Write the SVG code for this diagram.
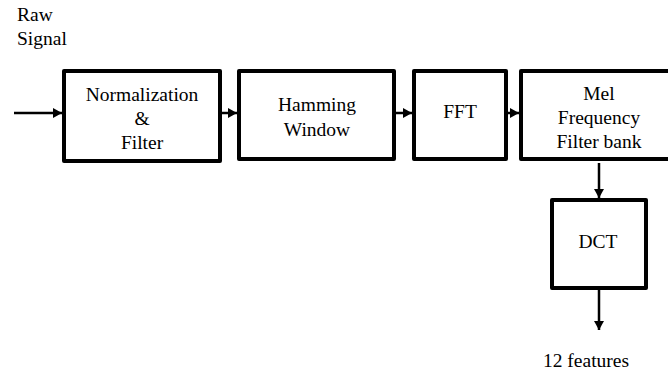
<svg xmlns="http://www.w3.org/2000/svg" width="668" height="374" viewBox="0 0 668 374">
<style>
.box{fill:#fff;stroke:#000;stroke-width:4;stroke-linejoin:round}
.c{stroke:#000;stroke-width:2.5;fill:none;marker-end:url(#ah)}
</style>
<defs>
<marker id="ah" markerUnits="userSpaceOnUse" markerWidth="10" markerHeight="10" refX="9" refY="5" orient="auto">
<path d="M0,0 L9,5 L0,10 Z" fill="#000"/>
</marker>
</defs>
<rect width="668" height="374" fill="#fff"/>
<g font-family="Liberation Serif, DejaVu Serif, serif" font-size="19.5" fill="#000">
<g id="raw-signal">
<text x="17" y="21">Raw</text>
<text x="17" y="45">Signal</text>
</g>
</g>
<g id="connectors">
<line class="c" x1="14" y1="113" x2="62" y2="113"/>
<line class="c" x1="222" y1="113" x2="237" y2="113"/>
<line class="c" x1="396" y1="113" x2="412" y2="113"/>
<line class="c" x1="508" y1="113" x2="519" y2="113"/>
<line class="c" x1="599" y1="163" x2="599" y2="198"/>
<line class="c" x1="599" y1="290" x2="599" y2="330"/>
</g>
<g font-family="Liberation Serif, DejaVu Serif, serif" font-size="19.5" fill="#000" text-anchor="middle">
<g id="normalization">
<rect class="box" x="64" y="71" width="156" height="90"/>
<text x="142" y="101">Normalization</text>
<text x="142" y="125">&amp;</text>
<text x="142" y="149">Filter</text>
</g>
<g id="hamming">
<rect class="box" x="239" y="71" width="155" height="88"/>
<text x="317" y="111">Hamming</text>
<text x="317" y="136">Window</text>
</g>
<g id="fft">
<rect class="box" x="414" y="71" width="92" height="88"/>
<text x="460" y="118">FFT</text>
</g>
<g id="mel">
<rect class="box" x="521" y="71" width="160" height="88"/>
<text x="599" y="100">Mel</text>
<text x="599" y="124">Frequency</text>
<text x="599" y="148">Filter bank</text>
</g>
<g id="dct">
<rect class="box" x="552" y="200" width="94" height="88"/>
<text x="598" y="248">DCT</text>
</g>
<g id="features">
<text x="586" y="367">12 features</text>
</g>
</g>
</svg>
